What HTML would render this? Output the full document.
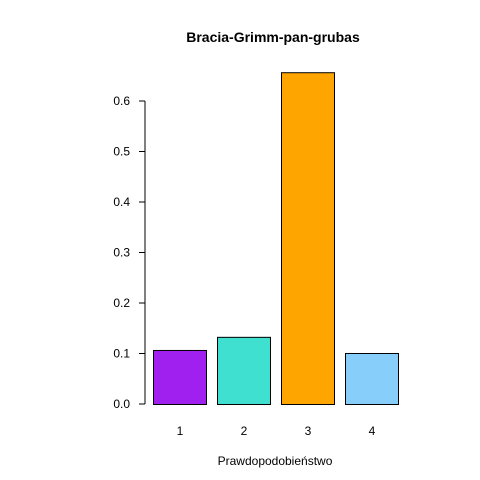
<!DOCTYPE html>
<html><head><meta charset="utf-8"><style>
body{margin:0;background:#fff}
svg{display:block;font-family:"Liberation Sans",Arial,sans-serif}
</style></head><body>
<svg id="chart" width="480" height="480">
<text x="273" y="42" text-anchor="middle" font-weight="bold" font-size="14">Bracia-Grimm-pan-grubas</text>
<text x="275" y="465" text-anchor="middle" font-size="12">Prawdopodobieństwo</text>
<g id="yaxis"></g>
<g id="bars"></g>
</svg>
<script>
const categories = ["1","2","3","4"];
const values = [0.107, 0.133, 0.657, 0.101];
const colors = ["#A020F0","#40E0D0","#FFA500","#87CEFA"];
const yTicks = [0,0.1,0.2,0.3,0.4,0.5,0.6];
const yTickLabels = ["0.0","0.1","0.2","0.3","0.4","0.5","0.6"];
const NS="http://www.w3.org/2000/svg";
function y(v){return 404 - v*505;}
function xLeft(i){return 153 + i*64;}
const bw=53;
const ya=document.getElementById('yaxis');
function mk(tag,attrs,parent){const e=document.createElementNS(NS,tag);for(const k in attrs)e.setAttribute(k,attrs[k]);parent.appendChild(e);return e;}
const ax=mk('line',{x1:145,x2:145,y1:y(0),y2:y(0.6),stroke:'#000'},ya);


yTicks.forEach((t,i)=>{
  const l=mk('line',{x1:139,x2:145,y1:y(t),y2:y(t),stroke:'#000'},ya);
  
  
  const tx=mk('text',{x:130,y:y(t)+4,'text-anchor':'end','font-size':12},ya);
  tx.textContent=yTickLabels[i];
  
  
});
const bg=document.getElementById('bars');
values.forEach((v,i)=>{
  const r=mk('rect',{x:xLeft(i)+0.5,y:y(v)+0.5,width:bw,height:y(0)-y(v),fill:colors[i],stroke:'#000'},bg);
  
  
  const t=mk('text',{x:xLeft(i)+bw/2+0.5,y:435,'text-anchor':'middle','font-size':12},bg);
  t.textContent=categories[i];
  
  
});
</script>
</body></html>
